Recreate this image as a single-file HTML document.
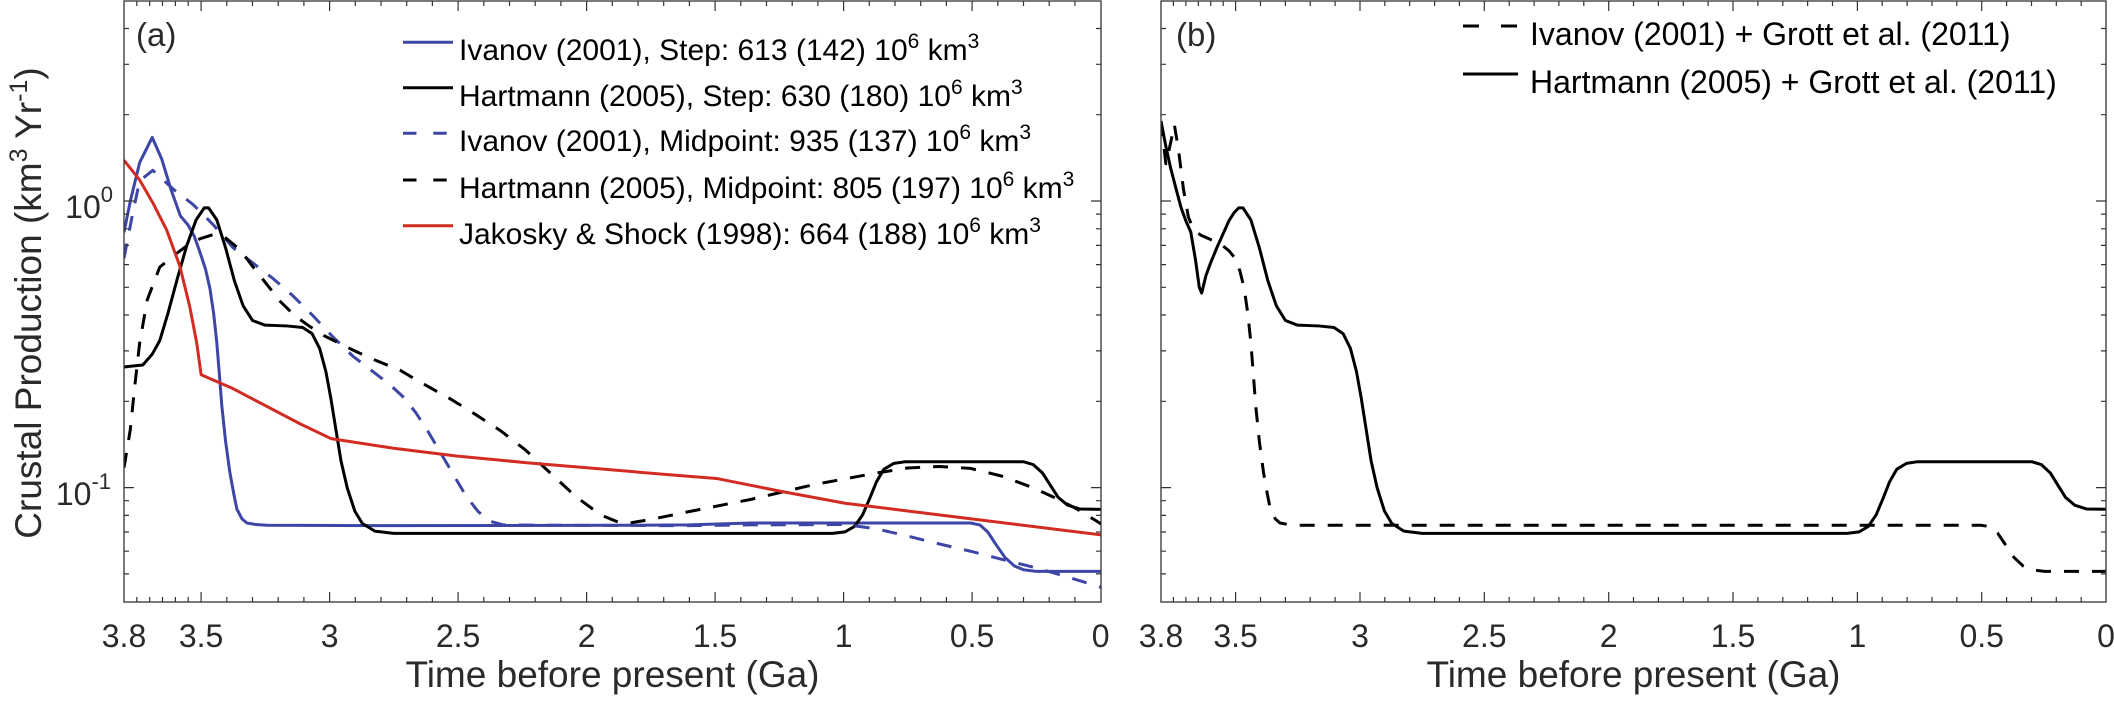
<!DOCTYPE html>
<html><head><meta charset="utf-8"><style>html,body{margin:0;padding:0;background:#fff}svg{display:block}</style></head>
<body>
<svg xmlns="http://www.w3.org/2000/svg" xmlns:xlink="http://www.w3.org/1999/xlink" width="2114" height="707" viewBox="0 0 2114 707" font-family="'Liberation Sans', Arial, Helvetica, sans-serif">
<rect width="2114" height="707" fill="#fff"/>
<defs>
<clipPath id="ca"><rect x="124" y="1" width="977" height="601"/></clipPath>
<clipPath id="cb"><rect x="1161" y="1" width="945" height="601"/></clipPath>
<g id="xta" stroke="#333" stroke-width="1.2" fill="none">
<path d="M136.8 0v-5M149.7 0v-5M162.5 0v-5M175.4 0v-5M188.2 0v-5M226.8 0v-5M252.5 0v-5M278.2 0v-5M303.9 0v-5M355.3 0v-5M381 0v-5M406.7 0v-5M432.4 0v-5M483.8 0v-5M509.5 0v-5M535.2 0v-5M560.9 0v-5M612.3 0v-5M638 0v-5M663.7 0v-5M689.4 0v-5M740.8 0v-5M766.5 0v-5M792.2 0v-5M817.9 0v-5M869.3 0v-5M895 0v-5M920.7 0v-5M946.4 0v-5M997.8 0v-5M1023.5 0v-5M1049.2 0v-5M1074.9 0v-5"/>
<path d="M201.1 0v-10M329.6 0v-10M458.1 0v-10M586.6 0v-10M715.1 0v-10M843.6 0v-10M972.1 0v-10"/>
</g>
<g id="xtb" stroke="#333" stroke-width="1.2" fill="none">
<path d="M1173.4 0v-5M1185.9 0v-5M1198.3 0v-5M1210.7 0v-5M1223.2 0v-5M1260.5 0v-5M1285.4 0v-5M1310.2 0v-5M1335.1 0v-5M1384.8 0v-5M1409.7 0v-5M1434.6 0v-5M1459.4 0v-5M1509.2 0v-5M1534.1 0v-5M1558.9 0v-5M1583.8 0v-5M1633.5 0v-5M1658.4 0v-5M1683.3 0v-5M1708.1 0v-5M1757.9 0v-5M1782.8 0v-5M1807.6 0v-5M1832.5 0v-5M1882.2 0v-5M1907.1 0v-5M1932 0v-5M1956.8 0v-5M2006.6 0v-5M2031.5 0v-5M2056.3 0v-5M2081.2 0v-5"/>
<path d="M1235.6 0v-10M1360 0v-10M1484.3 0v-10M1608.7 0v-10M1733 0v-10M1857.4 0v-10M1981.7 0v-10"/>
</g>
<g id="yt" stroke="#333" stroke-width="1.2" fill="none">
<path d="M0 28.5h5M0 64.3h5M0 114.7h5M0 214.1h5M0 228.8h5M0 245.4h5M0 264.6h5M0 287.3h5M0 315h5M0 350.9h5M0 401.3h5M0 500.7h5M0 515.4h5M0 532h5M0 551.2h5M0 573.9h5"/>
<path d="M0 201h10M0 487.6h10"/>
</g>
</defs>

<!-- ===== Panel A curves ===== -->
<g clip-path="url(#ca)">
<g transform="translate(124,0) scale(0.627,0.3871)" fill="none" stroke-width="3" stroke-linejoin="round">
<path vector-effect="non-scaling-stroke" stroke="#3d46a6" d="M0,600 L10,520 L25,420 L45,355 L60,410 L75,490 L90,558 L102,581 L112,610 L121,651 L130,695 L137,745 L143,810 L148,885 L152,965 L156,1048 L162,1140 L169,1222 L175,1275 L180,1315 L188,1340 L196,1351 L210,1355 L228,1357 L400,1358 L800,1357 L900,1356 L960,1353 L1000,1351 L1350,1351 L1365,1356 L1378,1375 L1390,1405 L1405,1440 L1420,1462 L1435,1472 L1455,1476 L1570,1476"/>
<path vector-effect="non-scaling-stroke" stroke="#000" d="M0,948 L30,943 L45,915 L57,880 L70,810 L85,720 L100,635 L115,568 L128,537 L135,537 L148,568 L162,640 L176,725 L190,790 L205,828 L225,840 L260,842 L285,846 L300,862 L312,900 L322,960 L330,1030 L338,1110 L346,1190 L356,1260 L368,1320 L380,1352 L400,1372 L430,1378 L1130,1378 L1150,1374 L1165,1360 L1178,1330 L1190,1285 L1200,1245 L1212,1212 L1228,1197 L1245,1193 L1435,1193 L1450,1200 L1465,1222 L1478,1255 L1490,1285 L1505,1305 L1525,1315 L1570,1316"/>
<path vector-effect="non-scaling-stroke" stroke="#3d46a6" stroke-dasharray="15 13" d="M0,667 L14,550 L25,467 L46,440 L78,488 L110,528 L142,580 L174,640 L206,680 L238,720 L270,765 L301,815 L333,870 L365,920 L397,960 L425,995 L445,1025 L465,1065 L485,1115 L505,1170 L525,1225 L545,1280 L565,1322 L585,1347 L605,1356 L700,1357 L900,1358 L1000,1356 L1150,1355 L1200,1366 L1250,1385 L1300,1405 L1350,1424 L1400,1445 L1450,1465 L1500,1488 L1570,1523"/>
<path vector-effect="non-scaling-stroke" stroke="#000" stroke-dasharray="15 13" d="M0,1208 L6,1150 L10,1110 L17,1000 L25,886 L37,775 L57,690 L78,662 L100,635 L121,617 L142,606 L160,612 L185,645 L206,690 L228,735 L250,780 L272,815 L295,842 L320,868 L345,888 L370,908 L400,930 L440,956 L470,985 L520,1030 L560,1070 L600,1112 L640,1162 L680,1222 L720,1282 L760,1330 L790,1350 L810,1350 L840,1342 L900,1322 L1000,1290 L1100,1252 L1200,1222 L1250,1209 L1300,1205 L1350,1210 L1400,1230 L1450,1260 L1490,1290 L1520,1315 L1550,1345 L1570,1365"/>
<path vector-effect="non-scaling-stroke" stroke="#d22b22" d="M0,414 L25,465 L46,524 L68,594 L89,687 L105,793 L116,886 L123,968 L174,1004 L228,1050 L281,1095 L330,1133 L430,1158 L530,1178 L640,1195 L750,1210 L860,1225 L945,1236 L1050,1270 L1150,1300 L1250,1320 L1350,1340 L1450,1360 L1570,1384"/>
</g>
</g>

<!-- ===== Panel B curves ===== -->
<g clip-path="url(#cb)">
<g transform="translate(1161,0) scale(0.6071,0.3871)" fill="none" stroke-width="3" stroke-linejoin="round">
<path vector-effect="non-scaling-stroke" stroke="#000" stroke-dasharray="15 13" d="M0,313 L8,423 L16,368 L22,322 L29,389 L37,489 L45,560 L53,591 L65,607 L78,616 L90,625 L102,635 L112,648 L121,665 L130,700 L137,745 L143,810 L148,885 L152,965 L156,1048 L162,1140 L169,1222 L175,1275 L180,1315 L188,1340 L196,1351 L210,1355 L228,1357 L1350,1357 L1365,1360 L1378,1377 L1390,1405 L1405,1440 L1420,1462 L1435,1472 L1455,1476 L1570,1476"/>
<path vector-effect="non-scaling-stroke" stroke="#000" d="M0,313 L8,378 L16,435 L25,489 L33,536 L41,571 L49,599 L57,673 L63,742 L67,757 L74,712 L82,678 L92,640 L102,605 L112,570 L120,550 L128,537 L135,537 L148,568 L162,640 L176,725 L190,790 L205,828 L225,840 L260,842 L285,846 L300,862 L312,900 L322,960 L330,1030 L338,1110 L346,1190 L356,1260 L368,1320 L380,1352 L400,1372 L430,1378 L1130,1378 L1150,1374 L1165,1360 L1178,1330 L1190,1285 L1200,1245 L1212,1212 L1228,1197 L1245,1193 L1435,1193 L1450,1200 L1465,1222 L1478,1255 L1490,1285 L1505,1305 L1525,1315 L1570,1316"/>
</g>
</g>

<!-- ===== Axes boxes ===== -->
<rect x="124" y="1" width="977" height="601" fill="none" stroke="#333" stroke-width="1.3"/>
<rect x="1161" y="1" width="945" height="601" fill="none" stroke="#333" stroke-width="1.3"/>

<!-- ticks -->
<use xlink:href="#xta" href="#xta" transform="translate(0,602)"/>
<use xlink:href="#xta" href="#xta" transform="translate(0,1) scale(1,-1)"/>
<use xlink:href="#xtb" href="#xtb" transform="translate(0,602)"/>
<use xlink:href="#xtb" href="#xtb" transform="translate(0,1) scale(1,-1)"/>
<use xlink:href="#yt" href="#yt" transform="translate(124,0)"/>
<use xlink:href="#yt" href="#yt" transform="translate(1101,0) scale(-1,1)"/>
<use xlink:href="#yt" href="#yt" transform="translate(1161,0)"/>
<use xlink:href="#yt" href="#yt" transform="translate(2106,0) scale(-1,1)"/>

<!-- x tick labels -->
<g font-size="32" fill="#2a2a2a" text-anchor="middle">
<text x="124" y="647">3.8</text>
<text x="201.1" y="647">3.5</text>
<text x="329.6" y="647">3</text>
<text x="458.1" y="647">2.5</text>
<text x="586.6" y="647">2</text>
<text x="715.1" y="647">1.5</text>
<text x="843.6" y="647">1</text>
<text x="972.1" y="647">0.5</text>
<text x="1100.6" y="647">0</text>
<text x="1161" y="647">3.8</text>
<text x="1235.6" y="647">3.5</text>
<text x="1360" y="647">3</text>
<text x="1484.3" y="647">2.5</text>
<text x="1608.7" y="647">2</text>
<text x="1733" y="647">1.5</text>
<text x="1857.4" y="647">1</text>
<text x="1981.7" y="647">0.5</text>
<text x="2106" y="647">0</text>
</g>

<!-- y tick labels -->
<g font-size="32" fill="#2a2a2a" text-anchor="end">
<text x="113" y="218">10<tspan dy="-16" font-size="22">0</tspan></text>
<text x="111" y="505">10<tspan dy="-16" font-size="22">-1</tspan></text>
</g>

<!-- axis labels -->
<g font-size="37" fill="#2a2a2a">
<text x="612.5" y="687" text-anchor="middle">Time before present (Ga)</text>
<text x="1633.5" y="687" text-anchor="middle">Time before present (Ga)</text>
<text transform="translate(41,303) rotate(-90)" text-anchor="middle">Crustal Production (km<tspan dy="-14" font-size="25">3</tspan><tspan dy="14"> Yr</tspan><tspan dy="-14" font-size="25">-1</tspan><tspan dy="14">)</tspan></text>
</g>

<!-- panel labels -->
<g font-size="33" fill="#2a2a2a">
<text x="136" y="46">(a)</text>
<text x="1176" y="46">(b)</text>
</g>

<!-- Legend A -->
<g stroke-width="3" fill="none">
<path d="M403 42.3H453" stroke="#3d46a6"/>
<path d="M403 87.7H453" stroke="#000"/>
<path d="M403 133.3H416.5M433.3 133.3H446.7" stroke="#3d46a6"/>
<path d="M403 180H416.5M433.3 180H446.7" stroke="#000"/>
<path d="M403 225.7H453" stroke="#d22b22"/>
</g>
<g font-size="30" fill="#000">
<text x="459" y="60">Ivanov (2001), Step: 613 (142) 10<tspan dy="-12" font-size="21">6</tspan><tspan dy="12"> km</tspan><tspan dy="-12" font-size="21">3</tspan></text>
<text x="459" y="106">Hartmann (2005), Step: 630 (180) 10<tspan dy="-12" font-size="21">6</tspan><tspan dy="12"> km</tspan><tspan dy="-12" font-size="21">3</tspan></text>
<text x="459" y="151">Ivanov (2001), Midpoint: 935 (137) 10<tspan dy="-12" font-size="21">6</tspan><tspan dy="12"> km</tspan><tspan dy="-12" font-size="21">3</tspan></text>
<text x="459" y="198">Hartmann (2005), Midpoint: 805 (197) 10<tspan dy="-12" font-size="21">6</tspan><tspan dy="12"> km</tspan><tspan dy="-12" font-size="21">3</tspan></text>
<text x="459" y="244">Jakosky &amp; Shock (1998): 664 (188) 10<tspan dy="-12" font-size="21">6</tspan><tspan dy="12"> km</tspan><tspan dy="-12" font-size="21">3</tspan></text>
</g>

<!-- Legend B -->
<g stroke-width="3" fill="none" stroke="#000">
<path d="M1463 26H1479M1501 26H1517"/>
<path d="M1463 74H1518"/>
</g>
<g font-size="32" fill="#000">
<text x="1530" y="45">Ivanov (2001) + Grott et al. (2011)</text>
<text x="1530" y="93">Hartmann (2005) + Grott et al. (2011)</text>
</g>
</svg>
</body></html>
